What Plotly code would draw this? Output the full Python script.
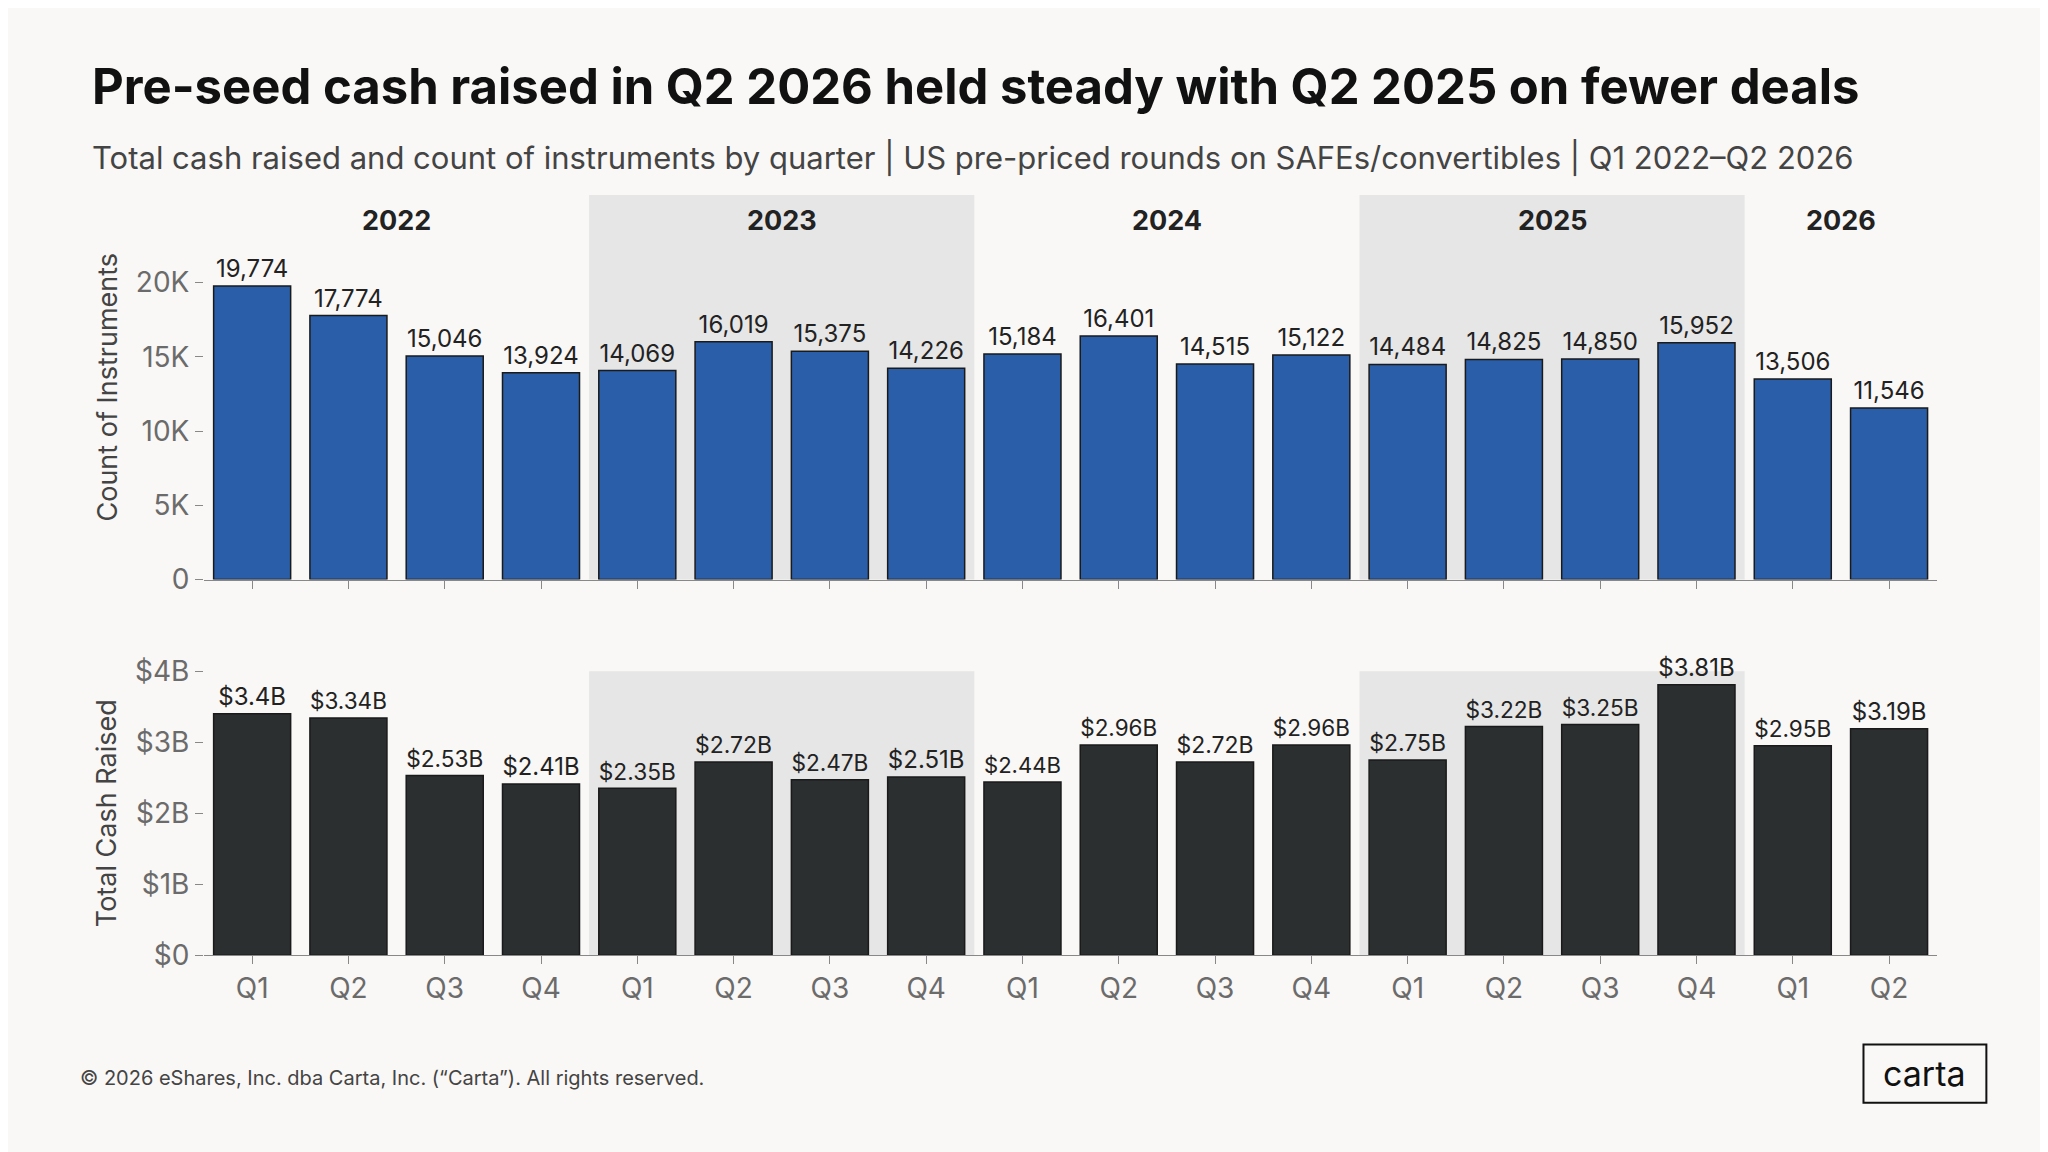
import plotly.graph_objects as go

quarters = ["Q1", "Q2", "Q3", "Q4"] * 4 + ["Q1", "Q2"]
years = ["2022", "2023", "2024", "2025", "2026"]
counts = [19774, 17774, 15046, 13924, 14069, 16019, 15375, 14226, 15184, 16401,
          14515, 15122, 14484, 14825, 14850, 15952, 13506, 11546]
cash = [3.40, 3.34, 2.53, 2.41, 2.35, 2.72, 2.47, 2.51, 2.44, 2.96,
        2.72, 2.96, 2.75, 3.22, 3.25, 3.81, 2.95, 3.19]
cash_labels = ["$3.4B", "$3.34B", "$2.53B", "$2.41B", "$2.35B", "$2.72B", "$2.47B", "$2.51B",
               "$2.44B", "$2.96B", "$2.72B", "$2.96B", "$2.75B", "$3.22B", "$3.25B", "$3.81B",
               "$2.95B", "$3.19B"]

FONT = "Inter"
BG = "#f9f8f6"
GREY = "#6b6b6b"
x = list(range(len(quarters)))

fig = go.Figure()
fig.add_trace(go.Bar(x=x, y=counts, text=[f"{v:,}" for v in counts], textposition="outside",
                     cliponaxis=False, marker=dict(color="#2a5ea8", line=dict(color="#1a1a1a", width=1.5)),
                     textfont=dict(size=24, color="#222"), width=0.8, xaxis="x", yaxis="y"))
fig.add_trace(go.Bar(x=x, y=cash, text=cash_labels, textposition="outside",
                     cliponaxis=False, marker=dict(color="#2b2f30", line=dict(color="#1a1a1a", width=1.5)),
                     textfont=dict(size=24, color="#222"), width=0.8, xaxis="x2", yaxis="y2"))

# shaded year bands
for start in (4, 12):
    for yr in ("y", "y2"):
        fig.add_shape(type="rect", xref="x" if yr == "y" else "x2", yref=f"{yr} domain",
                      x0=start - 0.5, x1=start + 3.5, y0=0, y1=1,
                      fillcolor="#e6e6e6", line_width=0, layer="below")

centers = [1.5, 5.5, 9.5, 13.5, 16.5]
for c, yl in zip(centers, years):
    fig.add_annotation(x=c, xref="x", y=0.825, yref="paper", text=f"<b>{yl}</b>",
                       xanchor="center", yanchor="middle",
                       showarrow=False, font=dict(size=27, color="#222", family=FONT))

axis_common = dict(range=[-0.5, 17.5], showline=True, linecolor="#888", ticks="outside",
                   ticklen=8, tickcolor="#888", showgrid=False, zeroline=False,
                   domain=[0.0957, 0.942])
fig.update_layout(
    width=2048, height=1152, paper_bgcolor=BG, plot_bgcolor="rgba(0,0,0,0)",
    font=dict(family=FONT, color=GREY), showlegend=False, bargap=0.2,
    margin=dict(l=0, r=0, t=0, b=0),
    xaxis=dict(**axis_common, anchor="y", tickvals=x, showticklabels=False),
    yaxis=dict(domain=[0.504, 0.848], range=[0, 25900], tickvals=[0, 5000, 10000, 15000, 20000],
               ticktext=["0", "5K", "10K", "15K", "20K"], showgrid=False, zeroline=False,
               ticks="outside", ticklen=8, tickcolor="#888", tickfont=dict(size=28, color=GREY),
               title=dict(text="Count of Instruments", font=dict(size=27, color="#444"), standoff=10)),
    xaxis2=dict(**axis_common, anchor="y2", tickvals=x, ticktext=quarters,
                tickfont=dict(size=28, color=GREY)),
    yaxis2=dict(domain=[0.168, 0.422], range=[0, 4], tickvals=[0, 1, 2, 3, 4],
                ticktext=["$0", "$1B", "$2B", "$3B", "$4B"], showgrid=False, zeroline=False,
                ticks="outside", ticklen=8, tickcolor="#888", tickfont=dict(size=28, color=GREY),
                title=dict(text="Total Cash Raised", font=dict(size=27, color="#444"), standoff=10)),
)

fig.add_annotation(x=0.040, y=0.945, xref="paper", yref="paper", xanchor="left", yanchor="middle",
                   text="<b>Pre-seed cash raised in Q2 2026 held steady with Q2 2025 on fewer deals</b>",
                   showarrow=False, font=dict(size=49, color="#111", family=FONT))
fig.add_annotation(x=0.040, y=0.881, xref="paper", yref="paper", xanchor="left", yanchor="middle",
                   text="Total cash raised and count of instruments by quarter | US pre-priced rounds on SAFEs/convertibles | Q1 2022–Q2 2026",
                   showarrow=False, font=dict(size=31, color="#444", family=FONT))
fig.add_annotation(x=0.034, y=0.058, xref="paper", yref="paper", xanchor="left", yanchor="middle",
                   text="© 2026 eShares, Inc. dba Carta, Inc. (“Carta”). All rights reserved.",
                   showarrow=False, font=dict(size=20, color="#444", family=FONT))
fig.add_shape(type="rect", xref="paper", yref="paper", x0=0.906, x1=0.966, y0=0.036, y1=0.088,
              line=dict(color="#111", width=2), fillcolor="rgba(0,0,0,0)")
fig.add_annotation(x=0.936, y=0.062, xref="paper", yref="paper", text="carta", showarrow=False,
                   xanchor="center", yanchor="middle",
                   font=dict(size=34, color="#111", family=FONT))

fig.write_html("out.html")
